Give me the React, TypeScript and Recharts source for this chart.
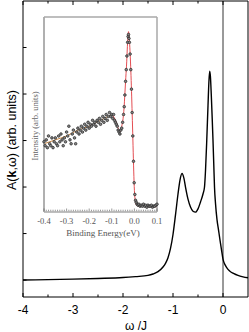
import React from 'react';
import {
  LineChart,
  ComposedChart,
  Line,
  Scatter,
  XAxis,
  YAxis,
  ReferenceLine,
  Label,
} from 'recharts';

// main spectral function A(k, w)
const OMEGA = [
  -4.0, -3.5, -3.0, -2.5, -2.0, -1.75, -1.5, -1.4, -1.3, -1.2, -1.15, -1.1, -1.05, -1.0, -0.95,
  -0.9, -0.86, -0.82, -0.78, -0.75, -0.7, -0.65, -0.6, -0.55, -0.5, -0.45, -0.4, -0.37, -0.35,
  -0.325, -0.3, -0.28, -0.265, -0.25, -0.235, -0.215, -0.2, -0.185, -0.17, -0.15, -0.12, -0.09,
  -0.06, -0.03, 0.0, 0.05, 0.1, 0.15, 0.2, 0.3, 0.4, 0.5,
];
const SPECTRAL = [
  1.0, 1.01, 1.02, 1.035, 1.055, 1.075, 1.1, 1.13, 1.18, 1.28, 1.36, 1.48, 1.68, 1.98, 2.4,
  2.85, 3.15, 3.29, 3.18, 3.0, 2.74, 2.57, 2.48, 2.46, 2.53, 2.68, 2.85, 3.0, 3.35,
  4.0, 4.75, 5.3, 5.49, 5.35, 5.0, 4.45, 4.0, 3.5, 3.0, 2.65, 2.3, 2.08,
  1.86, 1.65, 1.45, 1.31, 1.23, 1.18, 1.15, 1.1, 1.07, 1.05,
];
const MAIN_X_TICKS = [-4, -3.5, -3, -2.5, -2, -1.5, -1, -0.5, 0];
const MAIN_Y_TICKS = [1, 2, 3, 4, 5, 6];

// inset: measured intensity vs binding energy
const INSET_E = [
  -0.4, -0.395, -0.39, -0.385, -0.38, -0.375, -0.37, -0.365, -0.36, -0.355, -0.35, -0.345, -0.34,
  -0.335, -0.33, -0.325, -0.32, -0.315, -0.31, -0.305, -0.3, -0.295, -0.29, -0.285, -0.28, -0.275,
  -0.27, -0.265, -0.26, -0.255, -0.25, -0.245, -0.24, -0.235, -0.23, -0.225, -0.22, -0.215, -0.21,
  -0.205, -0.2, -0.195, -0.19, -0.185, -0.18, -0.175, -0.17, -0.165, -0.16, -0.155, -0.15, -0.145,
  -0.14, -0.135, -0.13, -0.125, -0.12, -0.115, -0.11, -0.105, -0.1, -0.096, -0.092, -0.088, -0.084,
  -0.08, -0.076, -0.072, -0.068, -0.064, -0.06, -0.056, -0.052, -0.048, -0.045, -0.042, -0.039,
  -0.036, -0.033, -0.03, -0.028, -0.026, -0.024, -0.022, -0.019, -0.016, -0.013, -0.01, -0.007,
  -0.004, -0.001, 0.002, 0.005, 0.008, 0.012, 0.016, 0.02, 0.025, 0.03, 0.035, 0.04, 0.045, 0.05,
  0.055, 0.06, 0.065, 0.07, 0.075, 0.08, 0.085, 0.09, 0.095, 0.1,
];
const INSET_I = [
  0.36, 0.34, 0.37, 0.33, 0.39, 0.35, 0.34, 0.38, 0.33, 0.36, 0.38, 0.35, 0.34,
  0.39, 0.36, 0.4, 0.37, 0.34, 0.38, 0.36, 0.41, 0.39, 0.44, 0.37, 0.35, 0.4,
  0.42, 0.38, 0.35, 0.41, 0.43, 0.4, 0.42, 0.44, 0.41, 0.43, 0.45, 0.42, 0.44,
  0.46, 0.43, 0.45, 0.44, 0.47, 0.45, 0.46, 0.44, 0.47, 0.46, 0.48, 0.45, 0.47,
  0.49, 0.46, 0.48, 0.5, 0.47, 0.49, 0.51, 0.49, 0.5, 0.48, 0.5, 0.47, 0.46,
  0.45, 0.44, 0.42, 0.41, 0.4, 0.42, 0.43, 0.46, 0.5, 0.54, 0.6, 0.67,
  0.73, 0.8, 0.87, 0.9, 0.91, 0.89, 0.87, 0.81, 0.73, 0.63, 0.51, 0.39,
  0.26, 0.15, 0.09, 0.06, 0.05, 0.04, 0.035, 0.04, 0.03, 0.035, 0.03, 0.04, 0.03, 0.035,
  0.025, 0.035, 0.03, 0.03, 0.035, 0.025, 0.03, 0.03, 0.035, 0.04,
];

// background fit (orange) and peak fit (red)
const FIT_BG_E = [-0.4, -0.35, -0.3, -0.25, -0.2, -0.15, -0.1];
const FIT_BG_I = [0.35, 0.37, 0.39, 0.42, 0.44, 0.47, 0.5];
const FIT_PEAK_E = [
  -0.1, -0.09, -0.08, -0.072, -0.064, -0.056, -0.05, -0.046, -0.042, -0.038, -0.034, -0.031,
  -0.028, -0.026, -0.024, -0.021, -0.018, -0.015, -0.012, -0.009, -0.006, -0.003, 0.0, 0.003,
  0.006, 0.01, 0.02, 0.04, 0.07, 0.1,
];
const FIT_PEAK_I = [
  0.5, 0.485, 0.46, 0.43, 0.41, 0.44, 0.48, 0.53, 0.61, 0.69, 0.77, 0.85,
  0.91, 0.925, 0.91, 0.86, 0.79, 0.7, 0.59, 0.47, 0.34, 0.21, 0.11, 0.065,
  0.045, 0.035, 0.03, 0.028, 0.027, 0.027,
];
const INSET_LABELS = [-0.4, -0.3, -0.2, -0.1, 0, 0.1];
const INSET_TICKS = Array.from({ length: 51 }, (_, i) => Math.round((-0.4 + i * 0.01) * 100) / 100);

const mainData = OMEGA.map((w, i) => ({ w, a: SPECTRAL[i] }));
const pointData = INSET_E.map((e, i) => ({ e, v: INSET_I[i] }));
const bgData = FIT_BG_E.map((e, i) => ({ e, v: FIT_BG_I[i] }));
const peakData = FIT_PEAK_E.map((e, i) => ({ e, v: FIT_PEAK_I[i] }));

const SANS = '"Liberation Sans", Arial, sans-serif';
const SERIF = '"Liberation Serif", "Times New Roman", serif';
const INSET_FRAME = '#a8a8a8';

// main axes: ticks pointing into the plot
const MainBottomTick = ({ x, y, payload }: any) => {
  const major = Number.isInteger(payload.value);
  return (
    <g>
      <line x1={x} y1={y} x2={x} y2={y - (major ? 4 : 2.5)} stroke="#000" strokeWidth={1} />
      {major && (
        <text x={x} y={y + 17} textAnchor="middle" fontSize={12} fontFamily={SANS} fill="#000">
          {payload.value}
        </text>
      )}
    </g>
  );
};
const MainTopTick = ({ x, y, payload }: any) => {
  const major = Number.isInteger(payload.value);
  return <line x1={x} y1={y} x2={x} y2={y + (major ? 4 : 2.5)} stroke="#000" strokeWidth={1} />;
};
const MainLeftTick = ({ x, y }: any) => <line x1={x} y1={y} x2={x + 3.5} y2={y} stroke="#000" strokeWidth={1} />;
const MainRightTick = ({ x, y }: any) => <line x1={x} y1={y} x2={x - 3.5} y2={y} stroke="#000" strokeWidth={1} />;

const InsetBottomTick = ({ x, y, payload }: any) => {
  const major = INSET_LABELS.some((t) => Math.abs(t - payload.value) < 1e-6);
  return (
    <g>
      <line x1={x} y1={y - 0.8} x2={x} y2={y - (major ? 3.5 : 2.3)} stroke="#555" strokeWidth={0.6} />
      {major && (
        <text x={x} y={y + 12} textAnchor="middle" fontSize={8.5} fontFamily={SERIF} fill="#555">
          {payload.value.toFixed(1)}
        </text>
      )}
    </g>
  );
};
const InsetTopTick = ({ x, y, payload }: any) => {
  const major = INSET_LABELS.some((t) => Math.abs(t - payload.value) < 1e-6);
  return <line x1={x} y1={y + 0.8} x2={x} y2={y + (major ? 3.5 : 2.3)} stroke="#555" strokeWidth={0.6} />;
};

export default function App() {
  return (
    <div style={{ position: 'absolute', left: 0, top: 0, width: 249, height: 332, background: '#fff' }}>
      <div style={{ position: 'absolute', left: 0, top: 0 }}>
        <LineChart width={249} height={332} data={mainData} margin={{ top: 0, right: 0, bottom: 34, left: 22 }}>
          <XAxis
            xAxisId="b"
            dataKey="w"
            type="number"
            domain={[-4, 0.5]}
            ticks={MAIN_X_TICKS}
            interval={0}
            height={1}
            tickSize={0}
            tickMargin={0}
            tickLine={false}
            stroke="#000"
            tick={<MainBottomTick />}
          >
            <Label
              content={() => (
                <text x={136} y={330} textAnchor="middle" fontSize={12} fontFamily={SANS} fill="#000">
                  ω /J
                </text>
              )}
            />
          </XAxis>
          <XAxis
            xAxisId="t"
            orientation="top"
            dataKey="w"
            type="number"
            domain={[-4, 0.5]}
            ticks={MAIN_X_TICKS}
            interval={0}
            height={1}
            tickSize={0}
            tickMargin={0}
            tickLine={false}
            stroke="#000"
            tick={<MainTopTick />}
          />
          <YAxis
            yAxisId="l"
            type="number"
            domain={[0.636, 7]}
            ticks={MAIN_Y_TICKS}
            interval={0}
            width={1}
            tickSize={0}
            tickMargin={0}
            tickLine={false}
            stroke="#000"
            tick={<MainLeftTick />}
          >
            <Label
              content={() => (
                <text
                  x={16}
                  y={140}
                  transform="rotate(-90 16 140)"
                  textAnchor="middle"
                  fontSize={12.5}
                  fontFamily={SANS}
                  fill="#000"
                >
                  A(<tspan fontWeight="bold">k</tspan>,ω) (arb. units)
                </text>
              )}
            />
          </YAxis>
          <YAxis
            yAxisId="r"
            orientation="right"
            type="number"
            domain={[0.636, 7]}
            ticks={MAIN_Y_TICKS}
            interval={0}
            width={1}
            tickSize={0}
            tickMargin={0}
            tickLine={false}
            stroke="#000"
            tick={<MainRightTick />}
          />
          <ReferenceLine xAxisId="b" yAxisId="l" x={0} stroke="#000" strokeWidth={0.8} />
          <Line
            xAxisId="b"
            yAxisId="l"
            type="monotone"
            dataKey="a"
            stroke="#000"
            strokeWidth={1.4}
            dot={false}
            isAnimationActive={false}
          />
        </LineChart>
      </div>

      {/* Inset */}
      <div style={{ position: 'absolute', left: 0, top: 0 }}>
        <ComposedChart width={249} height={332} margin={{ top: 16, right: 91, bottom: 119, left: 43 }}>
          <XAxis
            xAxisId="b"
            dataKey="e"
            type="number"
            domain={[-0.4, 0.1]}
            ticks={INSET_TICKS}
            interval={0}
            height={1}
            tickSize={0}
            tickMargin={0}
            tickLine={false}
            axisLine={{ stroke: INSET_FRAME, strokeWidth: 1.5 }}
            tick={<InsetBottomTick />}
          >
            <Label
              content={() => (
                <text x={103} y={236} textAnchor="middle" fontSize={9} fontFamily={SERIF} fill="#555">
                  Binding Energy(eV)
                </text>
              )}
            />
          </XAxis>
          <XAxis
            xAxisId="t"
            orientation="top"
            dataKey="e"
            type="number"
            domain={[-0.4, 0.1]}
            ticks={INSET_TICKS}
            interval={0}
            height={1}
            tickSize={0}
            tickMargin={0}
            tickLine={false}
            axisLine={{ stroke: INSET_FRAME, strokeWidth: 1.5 }}
            tick={<InsetTopTick />}
          />
          <YAxis
            yAxisId="l"
            type="number"
            domain={[0, 1]}
            width={1}
            tick={false}
            tickLine={false}
            axisLine={{ stroke: INSET_FRAME, strokeWidth: 1.8 }}
          >
            <Label
              content={() => (
                <text
                  x={38}
                  y={126}
                  transform="rotate(-90 38 126)"
                  textAnchor="middle"
                  fontSize={8.5}
                  fontFamily={SERIF}
                  fill="#666"
                >
                  Intensity (arb. units)
                </text>
              )}
            />
          </YAxis>
          <YAxis
            yAxisId="r"
            orientation="right"
            type="number"
            domain={[0, 1]}
            width={1}
            tick={false}
            tickLine={false}
            axisLine={{ stroke: INSET_FRAME, strokeWidth: 1.5 }}
          />
          <Scatter
            xAxisId="b"
            yAxisId="l"
            data={pointData}
            dataKey="v"
            isAnimationActive={false}
            shape={(p: any) => (
              <circle cx={p.cx} cy={p.cy} r={1.3} fill="#858585" stroke="#2a2a2a" strokeWidth={0.75} />
            )}
          />
          <Line
            xAxisId="b"
            yAxisId="l"
            data={bgData}
            dataKey="v"
            type="monotone"
            stroke="#c98a4b"
            strokeWidth={1}
            dot={false}
            isAnimationActive={false}
          />
          <Line
            xAxisId="b"
            yAxisId="l"
            data={peakData}
            dataKey="v"
            type="monotone"
            stroke="#e0393e"
            strokeWidth={0.9}
            dot={false}
            isAnimationActive={false}
          />
        </ComposedChart>
      </div>
    </div>
  );
}
